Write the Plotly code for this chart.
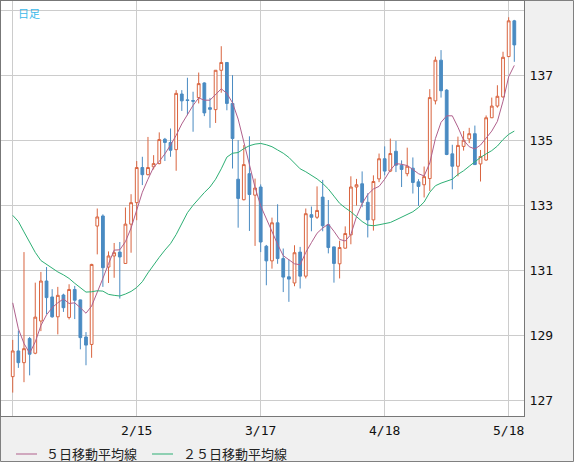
import plotly.graph_objects as go

# 日足データ（チャートから読み取り）
opens = [127.73, 128.52, 128.16, 128.90, 128.45, 129.44, 130.67, 130.18, 129.57, 130.24,
         129.55, 130.41, 130.09, 128.95, 128.72, 132.36, 132.67, 131.10, 131.44, 131.56,
         131.21, 132.42, 133.08, 134.16, 133.94, 134.18, 134.28, 135.03, 134.93, 134.71,
         136.42, 136.24, 136.22, 136.31, 136.76, 136.00, 135.94, 137.15, 137.39, 136.13,
         133.80, 133.17, 133.97, 133.31, 133.56, 131.74, 131.29, 132.46, 131.36, 130.80,
         130.61, 131.56, 130.82, 132.71, 132.63, 133.25, 132.40, 131.72, 131.20, 131.68,
         132.09, 133.56, 133.66, 133.09, 132.55, 133.81, 134.43, 134.05, 134.66, 134.23,
         133.97, 134.14, 133.72, 133.63, 133.82, 136.21, 137.46, 136.54, 134.58, 134.20,
         134.81, 135.04, 135.20, 134.27, 134.39, 135.69, 136.05, 136.33, 137.57, 138.67]
highs = [128.86, 129.15, 131.56, 128.95, 130.62, 130.95, 131.10, 130.42, 130.49, 130.28,
         130.57, 130.52, 130.10, 129.10, 131.20, 132.90, 132.72, 131.58, 131.84, 131.87,
         132.93, 133.34, 134.36, 134.49, 135.10, 134.54, 135.24, 135.07, 135.36, 136.54,
         136.54, 136.92, 136.49, 137.08, 136.78, 136.30, 137.15, 137.89, 137.40, 137.00,
         135.00, 134.85, 135.12, 133.82, 133.64, 131.78, 132.62, 133.03, 131.67, 131.33,
         131.77, 131.72, 132.90, 132.96, 133.58, 133.78, 133.16, 131.73, 131.91, 132.35,
         133.89, 133.81, 134.04, 133.37, 133.92, 134.59, 134.81, 135.05, 134.98, 134.38,
         134.77, 134.47, 133.80, 134.19, 136.57, 137.57, 137.77, 136.57, 134.86, 135.11,
         135.28, 135.38, 135.45, 134.70, 135.76, 136.31, 136.69, 137.72, 138.78, 138.70]
lows = [127.24, 128.00, 127.56, 127.77, 128.42, 129.13, 129.65, 129.54, 129.03, 129.72,
        129.49, 129.50, 128.57, 128.08, 128.31, 131.49, 130.49, 130.61, 130.77, 130.13,
        131.20, 131.54, 132.54, 133.62, 133.92, 134.10, 134.26, 134.36, 134.49, 134.06,
        135.90, 135.77, 135.26, 136.13, 135.74, 135.38, 135.53, 136.46, 135.92, 134.13,
        132.31, 133.15, 132.21, 131.75, 131.56, 130.54, 131.05, 131.20, 130.33, 130.03,
        130.51, 130.44, 130.75, 132.20, 132.58, 132.20, 131.52, 130.62, 130.75, 131.67,
        131.80, 132.99, 132.94, 132.01, 132.22, 133.71, 133.92, 134.02, 134.02, 133.56,
        133.89, 133.36, 132.98, 133.24, 133.44, 136.10, 136.31, 134.54, 133.49, 133.89,
        134.68, 134.91, 134.24, 133.73, 134.37, 135.68, 136.00, 136.31, 137.56, 137.41]
closes = [128.52, 128.16, 128.59, 128.42, 129.56, 130.67, 130.16, 129.57, 130.23, 129.85,
          130.41, 130.08, 128.93, 128.70, 131.18, 132.64, 131.08, 131.44, 131.54, 131.41,
          132.42, 133.08, 134.16, 133.94, 134.16, 134.28, 135.02, 134.93, 134.69, 136.44,
          136.21, 136.22, 136.20, 136.74, 135.84, 135.95, 137.15, 137.39, 136.13, 135.05,
          133.21, 134.25, 133.33, 133.53, 131.87, 131.29, 132.46, 131.36, 130.79, 130.73,
          131.54, 130.82, 132.74, 132.63, 132.84, 132.37, 131.70, 131.21, 131.70, 132.13,
          133.56, 133.63, 133.09, 132.55, 133.73, 134.43, 134.05, 134.59, 134.23, 134.10,
          134.20, 133.70, 133.58, 133.88, 136.31, 137.46, 136.52, 134.56, 134.20, 134.84,
          135.00, 135.20, 134.25, 134.50, 135.69, 136.05, 136.35, 137.55, 138.67, 137.93]

# 移動平均線（チャートから読み取り）
ma5 = [130.00, 129.20, 128.75, 128.45, 128.80, 129.30, 129.63, 129.85, 130.00, 130.12,
       129.98, 130.00, 129.85, 129.68, 129.90, 130.30, 130.75, 131.20, 131.62, 131.63,
       131.88, 132.30, 132.85, 133.40, 133.80, 134.17, 134.35, 134.58, 134.85, 135.15,
       135.50, 135.80, 136.07, 136.30, 136.23, 136.23, 136.40, 136.58, 136.44, 136.15,
       135.65, 134.95, 134.20, 133.55, 132.98, 132.58, 132.20, 131.80, 131.45, 131.33,
       131.20, 131.17, 131.55, 131.85, 132.14, 132.30, 132.42, 132.20, 131.95, 131.90,
       132.10, 132.65, 133.05, 133.33, 133.50, 133.58, 133.80, 134.08, 134.28, 134.26,
       134.22, 134.10, 133.97, 133.90, 134.30, 135.05, 135.55, 135.75, 135.75, 135.40,
       135.00, 134.80, 134.73, 134.85, 135.05, 135.28, 135.58, 136.20, 136.95, 137.30]
ma25 = [132.69, 132.50, 132.18, 131.87, 131.55, 131.30, 131.18, 131.07, 130.95, 130.86,
        130.75, 130.60, 130.45, 130.33, 130.34, 130.37, 130.36, 130.26, 130.23, 130.21,
        130.27, 130.35, 130.47, 130.65, 130.92, 131.17, 131.40, 131.62, 131.82, 132.10,
        132.43, 132.77, 133.00, 133.20, 133.39, 133.56, 133.80, 134.12, 134.48, 134.60,
        134.62, 134.74, 134.83, 134.88, 134.90, 134.86, 134.80, 134.70, 134.60, 134.47,
        134.30, 134.12, 134.03, 133.93, 133.81, 133.67, 133.50, 133.28, 133.06, 132.92,
        132.80, 132.65, 132.50, 132.39, 132.37, 132.40, 132.43, 132.47, 132.55, 132.63,
        132.72, 132.80, 132.93, 133.10, 133.40, 133.60, 133.68, 133.74, 133.80, 133.95,
        134.06, 134.20, 134.35, 134.47, 134.58, 134.68, 134.82, 135.02, 135.18, 135.28]

# 目盛り
x_tick_idx = [0, 22, 44, 66, 88]
x_tick_text = ["", "2/15", "3/17", "4/18", "5/18"]
y_tick_vals = [127, 129, 131, 133, 135, 137, 139]
y_tick_text = ["127", "129", "131", "133", "135", "137", ""]

x = list(range(len(opens)))

W, H = 574, 462
L, R, T, B = 1, 50, 1, 46
pw, ph = W - L - R, H - T - B


def px(v):
    # 画面のx座標(px) -> paper座標
    return (v - L) / pw


def py(v):
    # 画面のy座標(px) -> paper座標
    return (T + ph - v) / ph


up_color = "#d9643f"
down_color = "#4a8bc2"
ma5_color = "#b0608c"
ma25_color = "#2daf74"

data = [
    go.Candlestick(
        x=x, open=opens, high=highs, low=lows, close=closes,
        increasing={"line": {"color": up_color, "width": 1}, "fillcolor": "#ffffff"},
        decreasing={"line": {"color": down_color, "width": 1}, "fillcolor": down_color},
        whiskerwidth=0, showlegend=False, hoverinfo="skip",
    ),
    go.Scatter(x=x, y=ma5, mode="lines", name="５日移動平均線",
               line={"color": ma5_color, "width": 1}, showlegend=False),
    go.Scatter(x=x, y=ma25, mode="lines", name="２５日移動平均線",
               line={"color": ma25_color, "width": 1}, showlegend=False),
]

fig = go.Figure(data=data)

# 凡例（手書き）
legend_items = [("５日移動平均線", ma5_color, 16, 45), ("２５日移動平均線", ma25_color, 152, 182)]
shapes = [{
    "type": "rect", "xref": "paper", "yref": "paper",
    "x0": px(0.5), "x1": px(W - 0.5), "y0": py(H - 0.5), "y1": py(0.5),
    "line": {"color": "#808080", "width": 1}, "layer": "below",
}]
annotations = [{
    "text": "日足", "xref": "paper", "yref": "paper",
    "x": px(16), "y": py(3), "xanchor": "left", "yanchor": "top",
    "showarrow": False,
    "font": {"family": "Noto Sans CJK JP", "size": 11, "color": "#3bb9ea"},
}]
for name, color, lx, tx in legend_items:
    shapes.append({
        "type": "line", "xref": "paper", "yref": "paper",
        "x0": px(lx), "x1": px(lx + 21), "y0": py(454), "y1": py(454),
        "line": {"color": color, "width": 1},
    })
    annotations.append({
        "text": name, "xref": "paper", "yref": "paper",
        "x": px(tx), "y": py(453), "xanchor": "left", "yanchor": "middle",
        "showarrow": False, "borderpad": 0,
        "font": {"family": "Noto Sans CJK JP", "size": 13, "color": "#222222"},
    })

fig.update_layout(
    width=W, height=H,
    margin={"l": L, "r": R, "t": T, "b": B, "pad": 0},
    paper_bgcolor="#f0f0f0",
    plot_bgcolor="#ffffff",
    font={"family": "DejaVu Sans Mono", "size": 13, "color": "#111111"},
    showlegend=False,
    xaxis={
        "range": [-2.08, 90.72],
        "rangeslider": {"visible": False},
        "automargin": False,
        "tickvals": x_tick_idx, "ticktext": x_tick_text,
        "showgrid": True, "gridcolor": "#cccccc", "gridwidth": 1,
        "zeroline": False,
        "showline": True, "linecolor": "#777777", "mirror": True,
        "ticks": "outside", "ticklen": 2, "tickcolor": "rgba(0,0,0,0)",
    },
    yaxis={
        "range": [126.52, 139.28],
        "side": "right",
        "automargin": False,
        "tickvals": y_tick_vals, "ticktext": y_tick_text,
        "showgrid": True, "gridcolor": "#cccccc", "gridwidth": 1,
        "zeroline": False,
        "showline": True, "linecolor": "#777777", "mirror": True,
        "ticks": "outside", "ticklen": 2, "tickcolor": "rgba(0,0,0,0)",
    },
    annotations=annotations,
    shapes=shapes,
)

fig.write_html("out.html", config={"displayModeBar": False},
               post_script="document.body.style.margin='0';")
